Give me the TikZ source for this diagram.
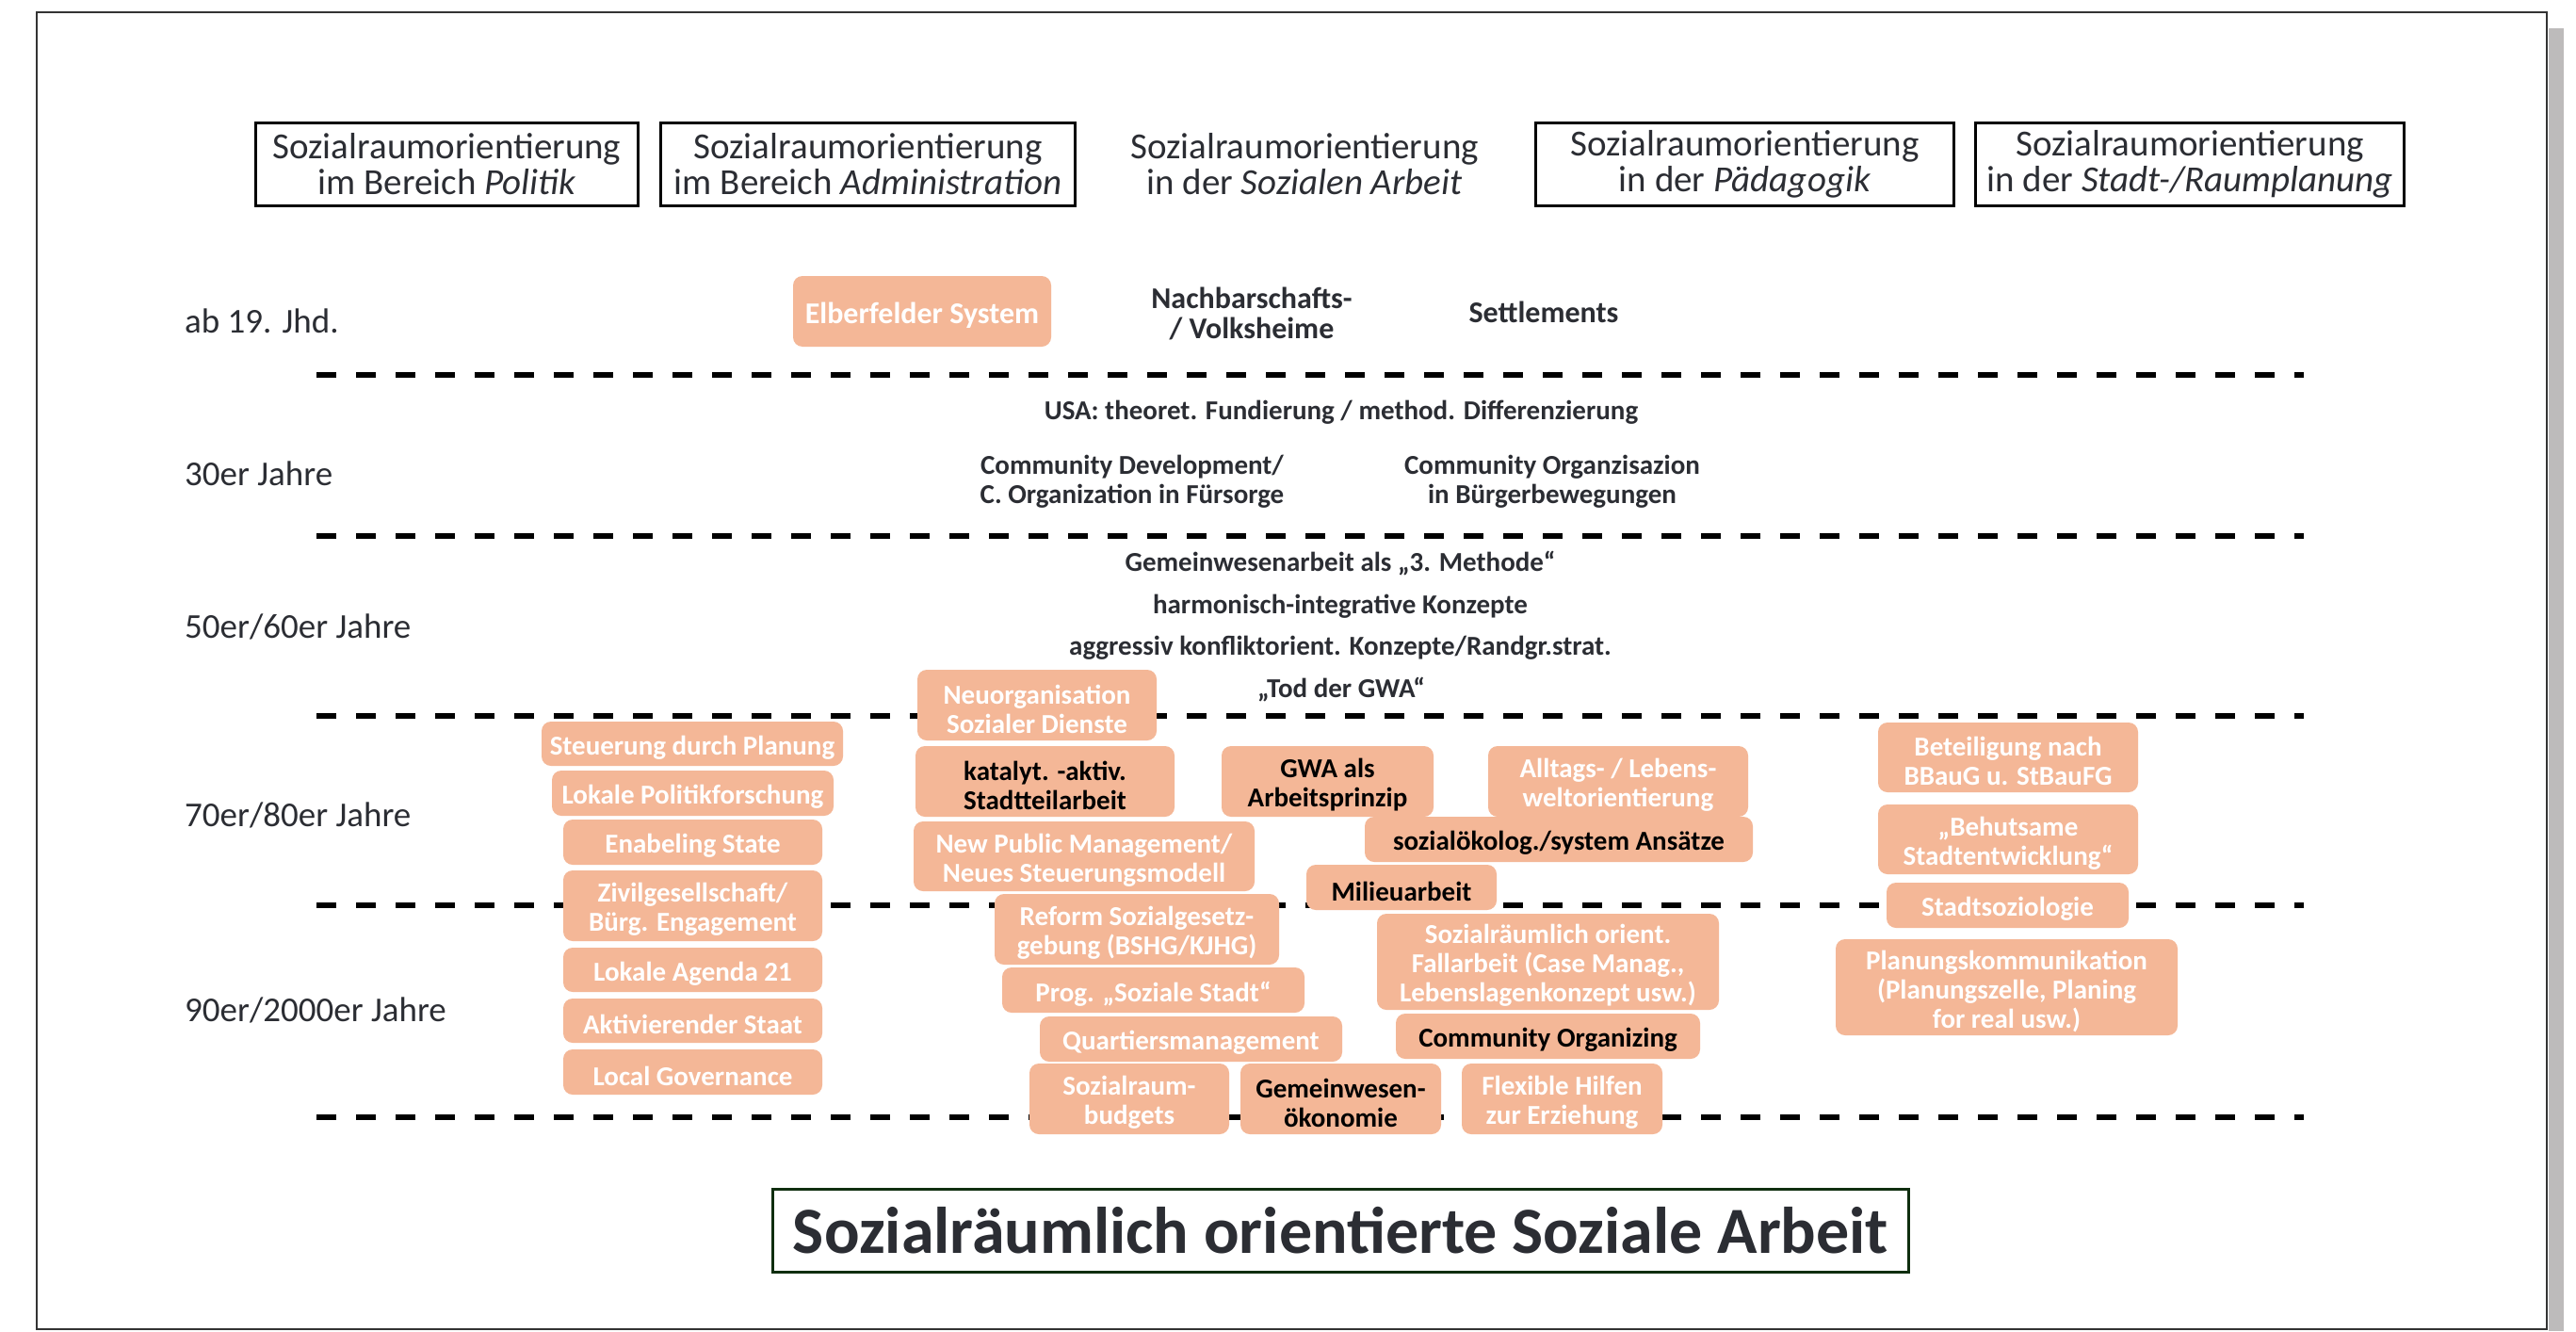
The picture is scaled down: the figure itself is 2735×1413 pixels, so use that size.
\documentclass[tikz,border=0pt]{standalone}
\usepackage{fontspec}
\setmainfont{Carlito}
\definecolor{boxc}{HTML}{F4B797}
\definecolor{txt}{HTML}{2B2D33}
\definecolor{ttl}{HTML}{0F2E0F}
\definecolor{shadowc}{HTML}{BDBBBB}
\definecolor{framec}{HTML}{333333}
\newcommand\ob[7]{%
  \node[bshape, minimum width={#3-#2}, minimum height={#5-#4}] (#1) at ({(#2+#3)/2},{(#4+#5)/2}) {};
  \node[#6] (#1t) at ([yshift=-4pt]#1.center) {#7};}
\begin{document}
\begin{tikzpicture}[x=1pt,y=-1pt,
  bshape/.style={fill=boxc, rounded corners=10pt, inner sep=0pt, outer sep=0pt},
  wtxt/.style={inner sep=0pt, align=center, text=white, font=\bfseries\fontsize{29}{31}\selectfont},
  btxt/.style={wtxt, text=black},
  wbig/.style={wtxt, font=\bfseries\fontsize{32}{32}\selectfont},
  hbox/.style={draw=black, line width=3pt, inner sep=0pt, align=center, text=txt, font=\fontsize{39}{38}\selectfont},
  hfree/.style={inner sep=0pt, align=center, text=txt, font=\fontsize{39}{38}\selectfont},
  yr/.style={anchor=base west, inner sep=0pt, text=txt, font=\fontsize{37}{37}\selectfont},
  mid/.style={inner sep=0pt, align=center, text=txt, font=\bfseries\fontsize{29}{31}\selectfont},
  midbig/.style={mid, font=\bfseries\fontsize{32}{32}\selectfont},
  sep/.style={line width=5.5pt, dash pattern=on 21pt off 21pt}
]
\useasboundingbox (0,0) rectangle (2735,1413);
\fill[white] (0,0) rectangle (2735,1413);
\fill[shadowc] (2706,30) rectangle (2722,1413);
\draw[line width=2pt, draw=framec] (39,13) rectangle (2704,1411);

% column headers
\node[hbox, minimum width=406, minimum height=88] (hpol) at (474.5,174.5) {Sozialraumorientierung\\im Bereich \textit{Politik}};
\node[hbox, minimum width=440, minimum height=88] (hadm) at (921.5,174.5) {Sozialraumorientierung\\im Bereich \textit{Administration}};
\node[hfree] (hsa) at (1385,174.5) {Sozialraumorientierung\\in der \textit{Sozialen Arbeit}};
\node[hbox, minimum width=444, minimum height=88] (hpaed) at (1852.5,174.5) {Sozialraumorientierung\\in der \textit{Pädagogik}};
\node[hbox, minimum width=455, minimum height=88] (hstadt) at (2325,174.5) {Sozialraumorientierung\\in der \textit{Stadt-/Raumplanung}};

% period labels
\node[yr] (y19) at (196,353) {ab 19. Jhd.};
\node[yr] (y30) at (196,515) {30er Jahre};
\node[yr] (y50) at (196,677) {50er/60er Jahre};
\node[yr] (y70) at (196,877) {70er/80er Jahre};
\node[yr] (y90) at (196,1084) {90er/2000er Jahre};

% separators
\foreach \yy/\nn in {398/sa,569/sb,760/sc,961/sd,1186/se} {
  \coordinate (\nn l) at (336,\yy);
  \coordinate (\nn r) at (2446,\yy);
  \draw[sep] (\nn l) -- (\nn r);
}

% plain texts
\node[midbig] (nach) at (1329,333) {Nachbarschafts-\\/ Volksheime};
\node[midbig, anchor=base] (settl) at (1639,342) {Settlements};
\node[mid, anchor=base] (usa) at (1424,445) {USA: theoret. Fundierung / method. Differenzierung};
\node[mid] (cdev) at (1202,511) {Community Development/\\C. Organization in Fürsorge};
\node[mid] (corg) at (1648,511) {Community Organzisazion\\in Bürgerbewegungen};
\node[mid, anchor=base] (gwa3) at (1423,606) {Gemeinwesenarbeit als „3. Methode“};
\node[mid, anchor=base] (harm) at (1423,651) {harmonisch-integrative Konzepte};
\node[mid, anchor=base] (aggr) at (1423,695) {aggressiv konfliktorient. Konzepte/Randgr.strat.};
\node[mid, anchor=base] (tod) at (1424,740) {„Tod der GWA“};

% boxes
\ob{elb}{842}{1116}{293}{368}{wbig}{Elberfelder System}
\ob{neuorg}{974}{1228}{711}{786}{wtxt}{Neuorganisation\\Sozialer Dienste}
\ob{steu}{575}{895}{766}{813}{wtxt}{Steuerung durch Planung}
\ob{lpf}{586}{885}{818}{866}{wtxt}{Lokale Politikforschung}
\ob{enab}{598}{873}{870}{918}{wtxt}{Enabeling State}
\ob{zivil}{598}{873}{924}{999}{wtxt}{Zivilgesellschaft/\\Bürg. Engagement}
\ob{agenda}{598}{873}{1006}{1053}{wtxt}{Lokale Agenda 21}
\ob{aktiv}{598}{873}{1060}{1107}{wtxt}{Aktivierender Staat}
\ob{locgov}{598}{873}{1114}{1162}{wtxt}{Local Governance}
\ob{katal}{972}{1247}{792}{867}{btxt}{katalyt. -aktiv.\\Stadtteilarbeit}
\ob{gwaap}{1297}{1522}{792}{867}{btxt}{GWA als\\Arbeitsprinzip}
\ob{alltag}{1580}{1856}{792}{867}{wtxt}{Alltags- / Lebens-\\weltorientierung}
\ob{npm}{970}{1332}{872}{946}{wtxt}{New Public Management/\\Neues Steuerungsmodell}
\ob{sozoek}{1449}{1861}{867}{915}{btxt}{sozialökolog./system Ansätze}
\ob{milieu}{1387}{1589}{918}{966}{btxt}{Milieuarbeit}
\ob{reform}{1056}{1358}{949}{1024}{wtxt}{Reform Sozialgesetz-\\gebung (BSHG/KJHG)}
\ob{prog}{1064}{1385}{1027}{1075}{wtxt}{Prog. „Soziale Stadt“}
\ob{quart}{1104}{1425}{1079}{1127}{wtxt}{Quartiersmanagement}
\ob{srb}{1093}{1305}{1129}{1204}{wtxt}{Sozialraum-\\budgets}
\ob{gwoek}{1317}{1530}{1129}{1204}{btxt}{Gemeinwesen-\\ökonomie}
\ob{flex}{1552}{1765}{1129}{1204}{wtxt}{Flexible Hilfen\\zur Erziehung}
\ob{fall}{1462}{1825}{970}{1072}{wtxt}{Sozialräumlich orient.\\Fallarbeit (Case Manag.,\\Lebenslagenkonzept usw.)}
\ob{comorg}{1482}{1805}{1076}{1124}{btxt}{Community Organizing}
\ob{beteil}{1994}{2270}{767}{841}{wtxt}{Beteiligung nach\\BBauG u. StBauFG}
\ob{behut}{1994}{2270}{854}{928}{wtxt}{„Behutsame\\Stadtentwicklung“}
\ob{stsoz}{2003}{2260}{937}{985}{wtxt}{Stadtsoziologie}
\ob{plan}{1949}{2312}{997}{1099}{wtxt}{Planungskommunikation\\(Planungszelle, Planing\\for real usw.)}

% title
\node[draw=ttl, line width=3pt, minimum width=1206, minimum height=88, inner sep=0pt, text=txt, font=\bfseries\fontsize{70}{70}\selectfont] (title) at (1423.5,1306.5) {Sozialräumlich orientierte Soziale Arbeit};
\end{tikzpicture}
\end{document}
